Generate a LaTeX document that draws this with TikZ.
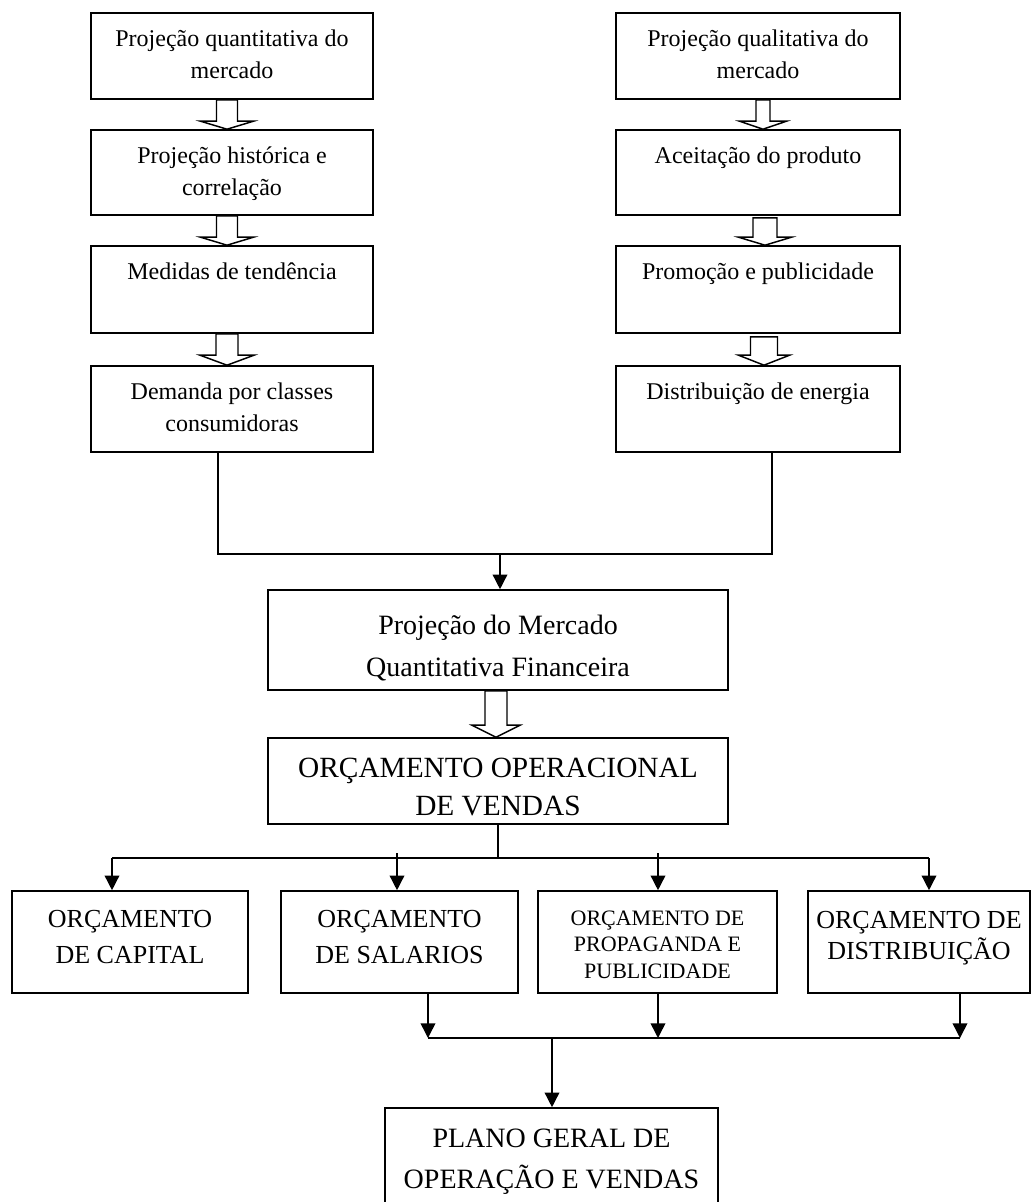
\documentclass[tikz,border=0pt]{standalone}
\usepackage{fontspec}
\setmainfont{Liberation Serif}
\usetikzlibrary{arrows.meta,calc}
\newlength\pxu \setlength\pxu{0.75pt}
% #1 width px, #2 height px, #3 first baseline offset px, #4 font size pt, #5 baselineskip pt, #6 text
\newcommand\bx[6]{\parbox[c][#2\pxu][t]{#1\pxu}{\centering\fontsize{#4}{#5}\selectfont\rule{0pt}{#3\pxu}#6\par}}
% hollow block arrow: from, to, dx, half shaft, half head, head height, gap
\newcommand\harrow[7]{\draw[harr] ($(#1.south)+(#3-#4,#7)$) -- ($(#2.north)+(#3-#4,-#6)$) -- ($(#2.north)+(#3-#5,-#6)$) -- ($(#2.north)+(#3,0)$) -- ($(#2.north)+(#3+#5,-#6)$) -- ($(#2.north)+(#3+#4,-#6)$) -- ($(#1.south)+(#3+#4,#7)$) -- cycle;}
\tikzset{
  box/.style={draw, line width=1.2pt, inner sep=0pt, rectangle},
  harr/.style={draw, line width=1.1pt, line join=miter},
  conn/.style={draw, line width=1.1pt},
  arr/.style={draw, line width=1.1pt, -{Triangle[length=11pt,width=11pt]}}
}
\begin{document}
\begin{tikzpicture}[x=0.75pt,y=-0.75pt]
\useasboundingbox (0,0) rectangle (1033,1202);
\clip (0,0) rectangle (1033,1202);
% left column
\node[box] (L1) at (232,56)    {\bx{282}{86}{34}{18pt}{24pt}{Projeção quantitativa do\\mercado}};
\node[box] (L2) at (232,172.5) {\bx{282}{85}{34}{18pt}{24pt}{Projeção histórica e\\correlação}};
\node[box] (L3) at (232,289.5) {\bx{282}{87}{33}{18pt}{24pt}{Medidas de tendência}};
\node[box] (L4) at (232,409)   {\bx{282}{86}{33}{18pt}{24pt}{Demanda por classes\\consumidoras}};
% right column
\node[box] (R1) at (758,56)    {\bx{284}{86}{34}{18pt}{24pt}{Projeção qualitativa do\\mercado}};
\node[box] (R2) at (758,172.5) {\bx{284}{85}{34}{18pt}{24pt}{Aceitação do produto}};
\node[box] (R3) at (758,289.5) {\bx{284}{87}{33}{18pt}{24pt}{Promoção e publicidade}};
\node[box] (R4) at (758,409)   {\bx{284}{86}{33}{18pt}{24pt}{Distribuição de energia}};
% middle
\node[box] (M1) at (498,640) {\bx{460}{100}{44}{21pt}{31.5pt}{Projeção do Mercado\\Quantitativa Financeira}};
\node[box] (M2) at (498,781) {\bx{460}{86}{39}{22pt}{28.5pt}{ORÇAMENTO OPERACIONAL\\DE VENDAS}};
% budgets
\node[box] (A) at (130,942)   {\bx{236}{102}{36}{19.5pt}{27pt}{ORÇAMENTO\\DE CAPITAL}};
\node[box] (B) at (399.5,942) {\bx{237}{102}{36}{19.5pt}{27pt}{ORÇAMENTO\\DE SALARIOS}};
\node[box] (C) at (657.5,942) {\bx{239}{102}{34}{16.5pt}{19.9pt}{ORÇAMENTO DE\\PROPAGANDA E\\PUBLICIDADE}};
\node[box] (D) at (919,942)   {\bx{222}{102}{37}{19.5pt}{23.25pt}{ORÇAMENTO DE\\DISTRIBUIÇÃO}};
% final
\node[box] (P) at (551.5,1173) {\bx{333}{130}{39}{21pt}{30.75pt}{PLANO GERAL DE\\OPERAÇÃO E VENDAS}};
% hollow arrows
\harrow{L1}{L2}{-5}{10.5}{26.5}{8}{0}
\harrow{L2}{L3}{-5}{10.5}{26.5}{8}{0}
\harrow{L3}{L4}{-5}{11}{27}{10}{0}
\harrow{R1}{R2}{5}{7}{23.5}{8}{0}
\harrow{R2}{R3}{7}{12}{26.5}{8}{2}
\harrow{R3}{R4}{6}{13.5}{25.5}{10}{3}
\harrow{M1}{M2}{-2}{11}{24}{12}{0}
% join of the two columns
\coordinate (jl) at (218,554);
\coordinate (jr) at (772,554);
\coordinate (jm) at (500,554);
\draw[conn] (L4.south -| jl) -- (jl) -- (jr) -- (R4.south -| jr);
\draw[arr] (jm) -- (M1.north -| jm);
% branching to budgets
\coordinate (bA) at (112,858);
\coordinate (bD) at (929,858);
\coordinate (tB) at (397,853);
\coordinate (tC) at (658,853);
\draw[conn] (M2.south) -- (M2.south |- bA);
\draw[conn] (bA) -- (bD);
\draw[arr] (bA) -- (A.north -| bA);
\draw[arr] (tB) -- (B.north -| tB);
\draw[arr] (tC) -- (C.north -| tC);
\draw[arr] (bD) -- (D.north -| bD);
% merging to final plan
\coordinate (cB) at (428,1038);
\coordinate (cC) at (658,1038);
\coordinate (cD) at (960,1038);
\coordinate (cM) at (552,1038);
\draw[arr] (B.south -| cB) -- (cB);
\draw[arr] (C.south -| cC) -- (cC);
\draw[arr] (D.south -| cD) -- (cD);
\draw[conn] (cB) -- (cD);
\draw[arr] (cM) -- (P.north -| cM);
\end{tikzpicture}
\end{document}
